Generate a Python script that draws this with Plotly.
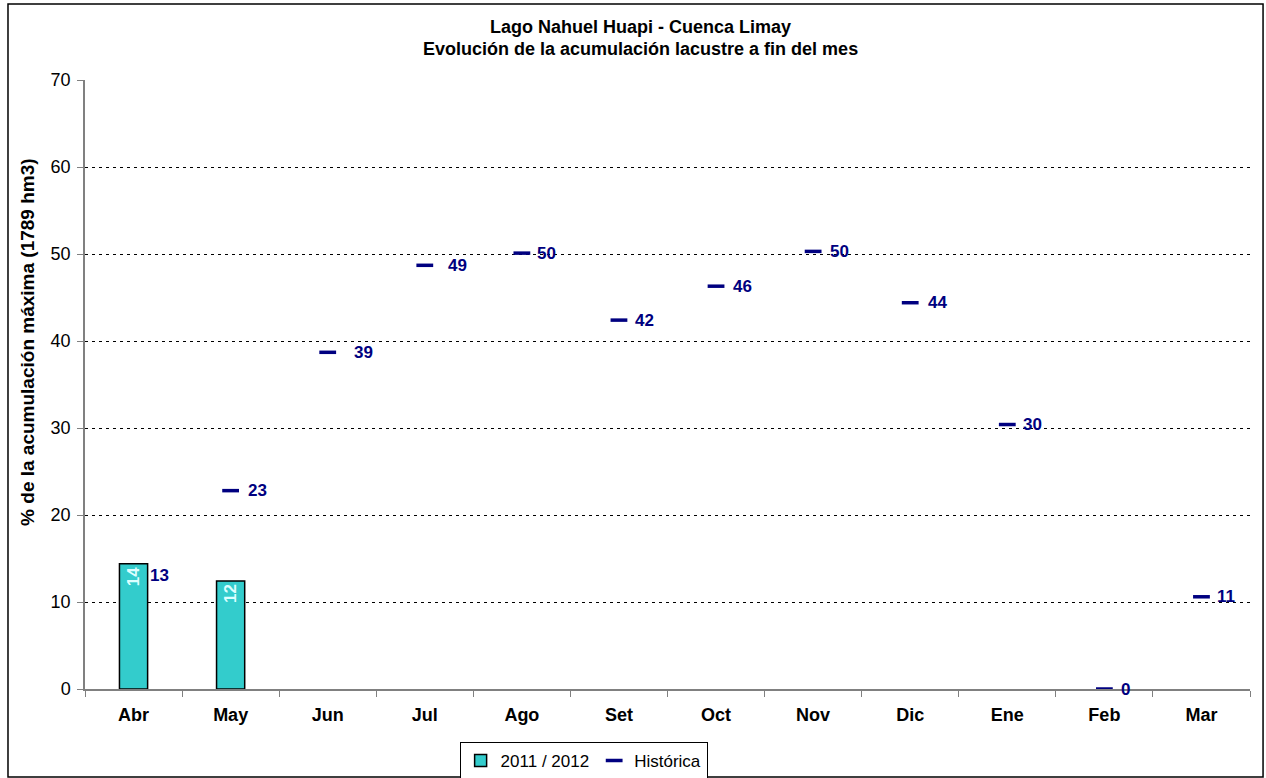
import plotly.graph_objects as go

# Months of the hydrological year (April to March)
meses = ["Abr", "May", "Jun", "Jul", "Ago", "Set", "Oct", "Nov", "Dic", "Ene", "Feb", "Mar"]

# Current season storage, % of maximum (1789 hm3)
temporada_2011_2012 = [14.4, 12.4]

# Historical end-of-month storage, % of maximum
historica = [13.1, 22.8, 38.7, 48.7, 50.1, 42.4, 46.3, 50.3, 44.4, 30.4, 0.0, 10.6]

# Label horizontal offsets (px) for the historical values
desplazamiento = [14, 15, 24, 21, 13, 14, 15, 15, 16, 14, 15, 14]

TEAL = "#33CCCC"
NAVY = "#000080"
FONT = "Liberation Sans, Arial, sans-serif"

fig = go.Figure()

# Historical series as short horizontal dashes
fig.add_trace(go.Scatter(
    x=meses, y=historica, mode="markers", name="Histórica",
    marker=dict(symbol="line-ew", size=12, line=dict(width=3.5, color=NAVY), color=NAVY),
    xaxis="x", yaxis="y", cliponaxis=False,
))

# Current season as bars, drawn on an overlaid axis pair so they sit above the dashes
fig.add_trace(go.Bar(
    x=meses[:len(temporada_2011_2012)], y=temporada_2011_2012, name="2011 / 2012",
    marker=dict(color=TEAL, line=dict(color="black", width=1.5)),
    text=[f"{round(v)}" for v in temporada_2011_2012],
    textposition="inside", insidetextanchor="end", textangle=-90,
    textfont=dict(family=FONT, size=17, color="#DDFFFF", weight="bold"),
    width=0.29, xaxis="x2", yaxis="y2",
))

for mes, v, dx in zip(meses, historica, desplazamiento):
    fig.add_annotation(
        x=mes, y=v, text=f"<b>{round(v)}</b>", showarrow=False,
        xanchor="left", yanchor="middle", xshift=dx,
        font=dict(family=FONT, size=17, color=NAVY),
    )

# Two-line chart title
titulo = ["Lago Nahuel Huapi - Cuenca Limay", "Evolución de la acumulación lacustre a fin del mes"]
for linea, ypos in zip(titulo, [1.087, 1.051]):
    fig.add_annotation(
        xref="paper", yref="paper", x=0.477, y=ypos, text=f"<b>{linea}</b>",
        showarrow=False, xanchor="center", yanchor="middle",
        font=dict(family=FONT, size=18, color="black"),
    )

# Vertical axis title
fig.add_annotation(
    xref="paper", yref="paper", x=-0.0489, y=0.570, textangle=-90,
    text="<b>% de la acumulación máxima (1789 hm3)</b>", showarrow=False,
    xanchor="center", yanchor="middle",
    font=dict(family=FONT, size=19, color="black"),
)

fig.update_layout(
    width=1266, height=778,
    margin=dict(l=85, r=16, t=80, b=89, autoexpand=False),
    paper_bgcolor="white", plot_bgcolor="white",
    font=dict(family=FONT, size=18, color="black"),
    xaxis=dict(
        type="category", categoryorder="array", categoryarray=meses,
        range=[-0.5, 11.5], showgrid=False, showline=True, linecolor="#808080", linewidth=1.5,
        ticks="outside", tickson="boundaries", ticklen=6, tickcolor="#808080",
        ticklabelstandoff=9,
        tickfont=dict(family=FONT, size=18, color="black", weight="bold"),
        fixedrange=True,
    ),
    yaxis=dict(
        range=[0, 70], dtick=10, showline=True, linecolor="#808080", linewidth=1.5,
        ticks="outside", ticklen=6, tickcolor="#808080", ticklabelstandoff=3,
        showgrid=True, gridcolor="black", gridwidth=1, griddash="3px,4px",
        zeroline=False, tickfont=dict(family=FONT, size=18, color="black"),
    ),
    xaxis2=dict(
        type="category", categoryorder="array", categoryarray=meses,
        range=[-0.5, 11.5], overlaying="x", visible=False,
    ),
    yaxis2=dict(range=[0, 70], overlaying="y", visible=False),
    barmode="overlay",
    showlegend=True,
    legend=dict(
        orientation="h", x=0.428, xanchor="center", y=-0.087, yanchor="top",
        bordercolor="black", borderwidth=1, bgcolor="white",
        font=dict(family=FONT, size=17, color="black"),
        traceorder="reversed", itemwidth=30, tracegroupgap=0,
    ),
    shapes=[dict(
        type="rect", xref="paper", yref="paper",
        x0=-0.0661, x1=1.0112, y0=-0.1445, y1=1.1248,
        line=dict(color="black", width=1.5), fillcolor="rgba(0,0,0,0)", layer="below",
    )],
)

fig.write_html("out.html")
